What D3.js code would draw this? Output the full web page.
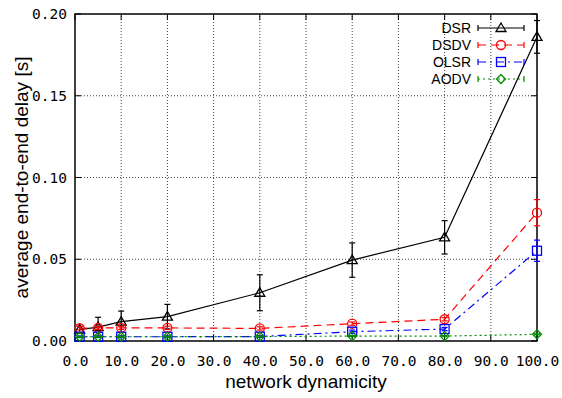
<!DOCTYPE html>
<html>
<head>
<meta charset="utf-8">
<script src="https://cdn.jsdelivr.net/npm/d3@7/dist/d3.min.js"></script>
<style>
  html, body { margin: 0; padding: 0; background: #fff; }
  svg { display: block; }
</style>
</head>
<body>
<svg id="chart" width="562" height="398"></svg>
<script>
// network dynamicity levels (x)
const dynamicity = [1, 5, 10, 20, 40, 60, 80, 100];

// average end-to-end delay [s] per protocol, with error half-widths
const dsr      = [0.0070, 0.0085, 0.0118, 0.0149, 0.0295, 0.0495, 0.0634, 0.1860];
const dsrErr   = [0.0020, 0.0060, 0.0065, 0.0075, 0.0110, 0.0105, 0.0102, 0.0100];
const dsdv     = [0.0078, 0.0080, 0.0080, 0.0080, 0.0077, 0.0106, 0.0133, 0.0785];
const dsdvErr  = [0.0010, 0.0010, 0.0010, 0.0010, 0.0010, 0.0010, 0.0010, 0.0080];
const olsr     = [0.0026, 0.0026, 0.0026, 0.0026, 0.0027, 0.0057, 0.0073, 0.0552];
const olsrErr  = [0.0005, 0.0005, 0.0005, 0.0005, 0.0005, 0.0010, 0.0010, 0.0065];
const aodv     = [0.0026, 0.0026, 0.0026, 0.0026, 0.0027, 0.0030, 0.0030, 0.0041];
const aodvErr  = [0.0003, 0.0003, 0.0003, 0.0003, 0.0003, 0.0003, 0.0003, 0.0003];

const xTicks = [0, 10, 20, 30, 40, 50, 60, 70, 80, 90, 100];
const yTicks = [0, 0.05, 0.10, 0.15, 0.20];

const series = [
  { name: "DSR",  values: dsr,  err: dsrErr,  color: "#000000", dash: null,          marker: "triangle" },
  { name: "DSDV", values: dsdv, err: dsdvErr, color: "#ff0000", dash: "8,5",         marker: "circle" },
  { name: "OLSR", values: olsr, err: olsrErr, color: "#0000ff", dash: "8,4,2,4",     marker: "square" },
  { name: "AODV", values: aodv, err: aodvErr, color: "#008c00", dash: "2,3",         marker: "diamond" }
];

const svg = d3.select("#chart");
const L = 75, R = 537, T = 14, B = 341;

const x = d3.scaleLinear().domain([0, 100]).range([L, R]);
const y = d3.scaleLinear().domain([0, 0.2]).range([B, T]);

const monoFont = "'DejaVu Sans Mono', monospace";
const sansFont = "'Liberation Sans', Arial, sans-serif";

// grid
const grid = svg.append("g").attr("class", "grid");
grid.selectAll("line.gx").data(xTicks.filter(d => d > 0 && d < 100)).join("line")
  .attr("x1", d => x(d)).attr("x2", d => x(d)).attr("y1", B).attr("y2", T)
  .attr("stroke", "#444").attr("stroke-width", 1).attr("stroke-dasharray", "1,2");
grid.selectAll("line.gy").data(yTicks.filter(d => d > 0 && d < 0.2)).join("line")
  .attr("x1", L).attr("x2", R).attr("y1", d => y(d)).attr("y2", d => y(d))
  .attr("stroke", "#444").attr("stroke-width", 1).attr("stroke-dasharray", "1,2");

// axes with inward ticks, labels on left/bottom
const tickLen = 6;
const xAxis = d3.axisBottom(x).tickValues(xTicks).tickFormat(d3.format(".1f")).tickSize(0).tickPadding(18);
const yAxis = d3.axisLeft(y).tickValues(yTicks).tickFormat(d3.format(".2f")).tickSize(0).tickPadding(8);

const gx = svg.append("g").attr("transform", `translate(0,${B})`).call(xAxis);
const gy = svg.append("g").attr("transform", `translate(${L},0)`).call(yAxis);
[gx, gy].forEach(g => {
  g.select(".domain").remove();
  g.selectAll("text").attr("font-family", monoFont).attr("font-size", 14.5).attr("fill", "#000");
});
gx.selectAll("text").attr("dy", "0.45em");

// mirrored inward tick marks
const ticks = svg.append("g").attr("stroke", "#000").attr("stroke-width", 1);
xTicks.forEach(d => {
  ticks.append("line").attr("x1", x(d)).attr("x2", x(d)).attr("y1", B).attr("y2", B - tickLen);
  ticks.append("line").attr("x1", x(d)).attr("x2", x(d)).attr("y1", T).attr("y2", T + tickLen);
});
yTicks.forEach(d => {
  ticks.append("line").attr("x1", L).attr("x2", L + tickLen).attr("y1", y(d)).attr("y2", y(d));
  ticks.append("line").attr("x1", R).attr("x2", R - tickLen).attr("y1", y(d)).attr("y2", y(d));
});

// frame
svg.append("rect").attr("x", L).attr("y", T).attr("width", R - L).attr("height", B - T)
  .attr("fill", "none").attr("stroke", "#000").attr("stroke-width", 1.5);

// axis titles
svg.append("text").attr("x", (L + R) / 2).attr("y", 388).attr("text-anchor", "middle")
  .attr("font-family", sansFont).attr("font-size", 19).text("network dynamicity");
svg.append("text").attr("transform", `translate(28,${(T + B) / 2}) rotate(-90)`)
  .attr("text-anchor", "middle")
  .attr("font-family", sansFont).attr("font-size", 19).text("average end-to-end delay [s]");

// marker drawing
function drawMarker(g, type, cx, cy, color) {
  const s = 4.5;
  let el;
  if (type === "circle") {
    el = g.append("circle").attr("cx", cx).attr("cy", cy).attr("r", s);
  } else if (type === "square") {
    el = g.append("rect").attr("x", cx - s).attr("y", cy - s).attr("width", 2 * s).attr("height", 2 * s);
  } else if (type === "triangle") {
    el = g.append("path").attr("d", `M${cx},${cy - s - 0.5}L${cx + s + 0.5},${cy + s - 1}L${cx - s - 0.5},${cy + s - 1}Z`);
  } else {
    el = g.append("path").attr("d", `M${cx},${cy - s}L${cx + s},${cy}L${cx},${cy + s}L${cx - s},${cy}Z`);
  }
  el.attr("fill", "none").attr("stroke", color).attr("stroke-width", 1.3);
}

const plot = svg.append("g");
const line = d3.line().x((d, i) => x(dynamicity[i])).y(d => y(d));
const cap = 3;

series.forEach(s => {
  const g = plot.append("g");
  g.append("path").datum(s.values).attr("d", line)
    .attr("fill", "none").attr("stroke", s.color).attr("stroke-width", 1.2)
    .attr("stroke-dasharray", s.dash);
  s.values.forEach((v, i) => {
    const cx = x(dynamicity[i]);
    const y1 = y(v + s.err[i]), y2 = y(v - s.err[i]);
    g.append("line").attr("x1", cx).attr("x2", cx).attr("y1", y1).attr("y2", y2)
      .attr("stroke", s.color).attr("stroke-width", 1.2);
    [y1, y2].forEach(yy => g.append("line").attr("x1", cx - cap).attr("x2", cx + cap)
      .attr("y1", yy).attr("y2", yy).attr("stroke", s.color).attr("stroke-width", 1.2));
    drawMarker(g, s.marker, cx, y(v), s.color);
  });
});

// legend
const leg = svg.append("g");
series.forEach((s, i) => {
  const ly = 28 + i * 17;
  leg.append("text").attr("x", 471).attr("y", ly).attr("dy", "0.35em").attr("text-anchor", "end")
    .attr("font-family", sansFont).attr("font-size", 14).text(s.name);
  const x1 = 478, x2 = 524;
  leg.append("line").attr("x1", x1).attr("x2", x2).attr("y1", ly).attr("y2", ly)
    .attr("stroke", s.color).attr("stroke-width", 1.2).attr("stroke-dasharray", s.dash);
  [x1, x2].forEach(xx => leg.append("line").attr("x1", xx).attr("x2", xx)
    .attr("y1", ly - 3).attr("y2", ly + 3).attr("stroke", s.color).attr("stroke-width", 1.2));
  drawMarker(leg, s.marker, 501, ly, s.color);
});
</script>
</body>
</html>
